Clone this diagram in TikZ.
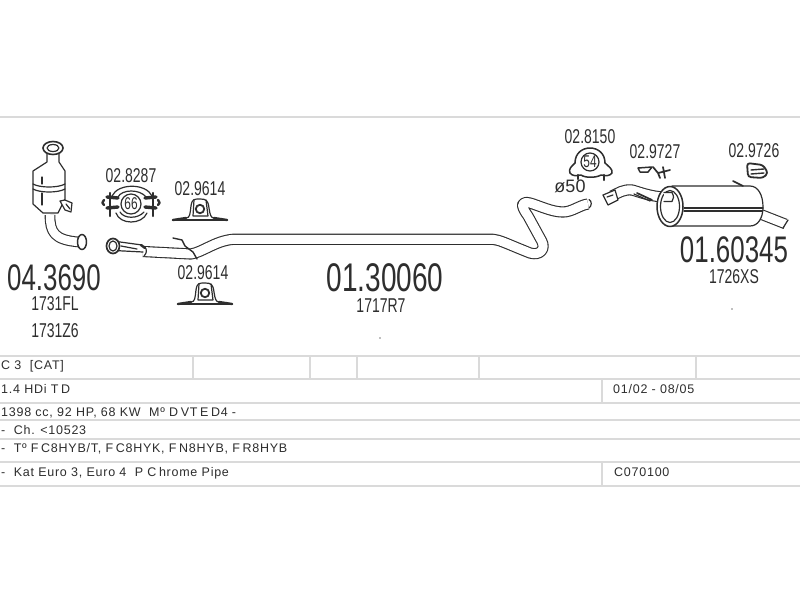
\documentclass[tikz,border=0pt]{standalone}
\usepackage{fontspec}
\setmainfont{Liberation Sans}
\newfontfamily\condfont[FakeStretch=0.7]{Liberation Sans}
\newfontfamily\tablefont[LetterSpace=6]{Liberation Sans}
\definecolor{ink}{HTML}{2E2E2E}
\definecolor{rule}{HTML}{DADADA}
\newcommand{\gp}{\kern2.6pt}
\tikzset{
  pipe/.style={draw=ink,line width=1.1pt,double=white,double distance=#1,line join=round},
  pipe/.default=8.5pt,
  part/.style={draw=ink,line width=1.2pt,line join=round,line cap=round},
  partfill/.style={part,fill=white},
  thick part/.style={draw=ink,line width=2.4pt,line cap=round,line join=round},
  num/.style={inner sep=0pt,text=ink,font=\condfont\fontsize{20}{20}\selectfont},
  bignum/.style={inner sep=0pt,text=ink},
  tabletext/.style={inner sep=0pt,anchor=base west,text=ink,font=\tablefont\fontsize{12.5}{13}\selectfont},
  rowline/.style={draw=rule,line width=2pt},
  colline/.style={draw=rule,line width=1.6pt},
  speck/.style={circle,fill=gray,inner sep=0pt,minimum size=1.6pt},
  bracket/.pic={
    \path[thick part] (-27,12) -- (27,12);
    \path[partfill] (-14,10) .. controls (-10,10) and (-10,6) .. (-9,-2) .. controls (-8,-9) and (-6,-9) .. (0,-9) .. controls (6,-9) and (8,-8) .. (9,0) .. controls (10,7) and (11,10) .. (14,10);
    \path[thick part] (-27,12) -- (-14,10) (14,10) -- (27,12);
    \path[part,line width=1.8pt] (0,1) circle (4.2);
    \path[part] (-6,-8) -- (-7,8) (6,-8) -- (8,8) (-7,8) -- (8,8);
  }
}
\begin{document}
\begin{tikzpicture}[x=1pt,y=-1pt]
\useasboundingbox (0,0) rectangle (800,600);
\fill[white] (0,0) rectangle (800,600);
\draw[rowline] (0,117) -- (800,117);
% table
\foreach \yy in {356,379,403,420,439,462,486} \draw[rowline] (0,\yy) -- (800,\yy);
\foreach \xx in {193,310,357,479,696} \draw[colline] (\xx,356) -- (\xx,379);
\draw[colline] (602,379) -- (602,403);
\draw[colline] (602,462) -- (602,486);
\node[tabletext] (r1) at (1,369.5) {C 3\ \ [CAT]};
\node[tabletext] (r2) at (1,393) {1.4 HDi T\gp D};
\node[tabletext] (r3) at (1,416) {1398 cc, 92 HP, 68 KW\ \ Mº D\gp VT\gp E\gp D4 -};
\node[tabletext] (r4) at (1,434) {-\ \ Ch. <10523};
\node[tabletext] (r5) at (1,452.5) {-\ \ Tº F\gp C8HYB/T, F\gp C8HYK, F\gp N8HYB, F\gp R8HYB};
\node[tabletext] (r6) at (1,476.5) {-\ \ Kat Euro 3, Euro 4\ \ P C\gp hrome Pipe};
\node[tabletext] (d1) at (613,393) {01/02 - 08/05};
\node[tabletext] (d2) at (614,476.5) {C070100};
% catalyst
\draw[pipe=8.5pt] (50,215) .. controls (50,232) and (54,240) .. (79,242);
\draw[partfill] (47,152) -- (47,162) -- (33,171) -- (33,204) -- (43,213) -- (58,213) -- (65,199) -- (65,171) -- (59,162) -- (59,152) -- cycle;
\draw[part] (33,184) .. controls (40,188) and (58,188) .. (65,184);
\draw[part] (33,189) .. controls (40,193) and (58,193) .. (65,189);
\draw[part] (42,177) -- (42,184) (42,193) -- (42,205);
\draw[partfill,line width=1.6pt] (53,148) ellipse (10 and 6.5);
\draw[part] (53,148) ellipse (6 and 3.5);
\draw[partfill,line width=1.5pt] (82,242) ellipse (4.5 and 7.5);
\draw[partfill] (60,201) -- (65,200) -- (72,203) -- (71,212) -- (65,210) -- cycle;
\draw[part] (66,204) -- (70,209);
% clamp 66
\draw[part] (112,196) .. controls (118,183) and (146,183) .. (152,196);
\draw[part] (116,213) .. controls (120,225) and (142,225) .. (147,213);
\draw[part] (118,197) .. controls (122,189) and (140,189) .. (146,197);
\draw[part] (120,212) .. controls (124,219) and (138,219) .. (144,212);
\draw[thick part,line width=3.4pt] (107,197) -- (118,198) (145,198) -- (156,197) (107,208) -- (118,207) (145,207) -- (156,208);
\draw[thick part] (110,193) -- (110,216) (153,193) -- (153,216);
\draw[thick part] (104,200) .. controls (102,203) .. (104,205) (158,200) .. controls (160,203) .. (158,205);
\node[partfill,circle,minimum size=20pt,inner sep=0pt,font=\condfont\fontsize{17}{17}\selectfont,text=ink] (c66) at (131,204) {66};
% brackets
\pic at (200,208) {bracket};
\pic at (205,292) {bracket};
% main pipe
\draw[pipe=9pt] (143,251.5) -- (191,254) .. controls (203,252) and (215,241) .. (233,239.3) -- (493,239.3) .. controls (500,240) and (505,243) .. (530,253) .. controls (540,256) and (546,249) .. (541.7,241) -- (528,216) .. controls (520,205) and (521,201) .. (530,203) .. controls (540,206) and (552,212) .. (563,212) .. controls (572,212) and (580,205) .. (588,204);
\draw[part] (589,199.5) .. controls (592,201) and (592,206) .. (589,208);
% sleeve
\draw[part] (118,241.7) -- (142,245) (118,250.7) -- (143,252);
\draw[part] (121,246) -- (137,249);
\draw[thick part] (141,245) -- (145,248);
\draw[part] (145,247) .. controls (147,250) and (147,253) .. (144,256);
\draw[partfill,line width=1.7pt] (113,246) ellipse (6.5 and 7.5);
\draw[part] (113,246) ellipse (4 and 5);
\draw[part,line width=1.4pt] (173,238) -- (182,240) -- (185,246) -- (193,252) -- (197,259);
% clamp 54
\draw[part,line width=1.5pt] (575,163) .. controls (575,143) and (605,143) .. (605,163);
\draw[part,line width=1.5pt] (575,163) .. controls (572,166) and (568,169) .. (570,173) .. controls (572,176) and (576,176) .. (581,175) .. controls (585,178) and (596,178) .. (601,175) .. controls (606,176) and (610,176) .. (612,173) .. controls (613,169) and (608,166) .. (605,163);
\draw[thick part] (578,175) -- (578,179) (604,175) -- (604,180);
\node[partfill,circle,minimum size=18pt,inner sep=0pt,font=\condfont\fontsize{17}{17}\selectfont,text=ink] (c54) at (590,162) {54};
% bracket 02.9727
\draw[partfill,line width=1.5pt] (638,168) -- (652,167) -- (648,172) -- (640,172) -- cycle;
\draw[part,line width=1.7pt] (653,167) -- (658,173) -- (660,178) (658,173) -- (670,170) (663,167) -- (665,178);
% hanger 02.9726
\draw[part,line width=1.8pt,rounded corners=3pt] (747,163) -- (763,165) -- (768,173) -- (763,178) -- (748,177) -- cycle;
\draw[part,line width=1.4pt] (751,170) -- (764,169) (751,174) -- (764,173);
% rear pipe and silencer
\draw[pipe=9pt] (612,196) .. controls (618,193) and (624,189) .. (632,190) .. controls (640,192) and (650,197) .. (671,197.5);
\draw[partfill] (603,195) -- (615,190) -- (618,200) -- (608,205) -- cycle;
\draw[part] (607,197) -- (613,195);
\draw[part] (634,194) -- (650,201);
\draw[part,line width=1.7pt] (637,193) -- (652,200);
\draw[pipe=8.5pt] (760,214) -- (785.5,224);
\draw[part] (788,220) -- (783,228);
\draw[partfill] (672,186) -- (750,186) .. controls (758,186) and (763,195) .. (763,207) .. controls (763,218) and (758,226) .. (750,226) -- (672,226) -- cycle;
\draw[partfill,line width=1.5pt] (670,206.5) ellipse (13 and 20);
\draw[part] (670,206.5) ellipse (9.5 and 16);
\draw[part] (684,208) -- (763,208) (684,211) -- (762,211);
\draw[partfill,draw=none] (664,192.5) rectangle (672,201.5);
\draw[part] (664,192.5) -- (672,192.5) .. controls (674,196) and (674,199) .. (672,201.5) -- (664,201.5);
\draw[part,line width=1.6pt] (733,181) -- (743,186);
% labels
\node[num] (n1) at (131,176) {02.8287};
\node[num] (n2) at (200,189) {02.9614};
\node[num] (n3) at (203,273) {02.9614};
\node[num] (n4) at (590,137) {02.8150};
\node[num] (n5) at (655,152) {02.9727};
\node[num] (n6) at (754,151) {02.9726};
\node[inner sep=0pt,text=ink,font=\fontsize{18}{18}\selectfont] (phi) at (570,186) {ø50};
\node[bignum,font=\condfont\fontsize{37}{37}\selectfont] (a1) at (54,278) {04.3690};
\node[bignum,font=\condfont\fontsize{40}{40}\selectfont] (a2) at (385,278) {01.30060};
\node[bignum,font=\condfont\fontsize{37}{37}\selectfont] (a3) at (734,250) {01.60345};
\node[num] (s1) at (55,304) {1731FL};
\node[num] (s2) at (55,331) {1731Z6};
\node[num] (s3) at (381,306) {1717R7};
\node[num] (s4) at (734,277) {1726XS};
\node[speck] (sp1) at (380,338) {};
\node[speck] (sp2) at (732,309) {};
\end{tikzpicture}
\end{document}
